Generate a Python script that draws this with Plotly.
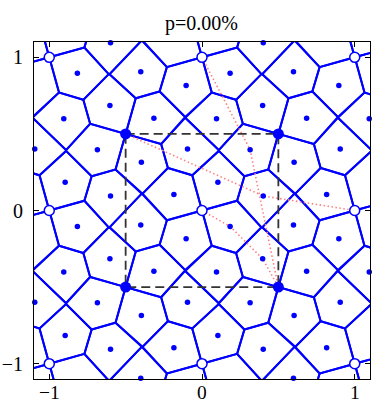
import plotly.graph_objects as go
import numpy as np

# ---- data: sites of one unit cell (p4 symmetry about the origin, period 1) ----
orbit_x = [0.401, 0.315, 0.104]   # representative sites A, B, C
orbit_y = [0.095, 0.397, 0.184]

# special points
hollow_x = [-1, 0, 1, -1, 0, 1, -1, 0, 1]
hollow_y = [1, 1, 1, 0, 0, 0, -1, -1, -1]
big_x = [-0.5, 0.5, 0.5, -0.5]
big_y = [0.5, 0.5, -0.5, -0.5]

# dashed unit cell
cell_x = [-0.5, 0.5, 0.5, -0.5, -0.5]
cell_y = [0.5, 0.5, -0.5, -0.5, 0.5]

# red dotted paths
red_paths = [
    ([-0.5, 0.401, 1.0], [0.5, 0.095, 0.0]),
    ([0.0, 0.315, 0.5], [1.0, 0.397, -0.5]),
    ([0.0, 0.184, 0.397, 0.5], [0.0, -0.104, -0.315, -0.5]),
]

title_text = "p=0.00%"
tick_vals = [-1, 0, 1]
tick_text = ["\u22121", "0", "1"]
rng = [-1.1, 1.1]

# ---- build all sites ----
sites = []
for bx, by in zip(orbit_x, orbit_y):
    x, y = bx, by
    for _ in range(4):
        for i in range(-3, 4):
            for j in range(-3, 4):
                sites.append((x + i, y + j))
        x, y = -y, x
sites = np.array(sites)
sites = sites[(np.abs(sites[:, 0]) < 2.6) & (np.abs(sites[:, 1]) < 2.6)]


def clip(poly, a, b, c):
    out = []
    n = len(poly)
    for k in range(n):
        p = poly[k]
        q = poly[(k + 1) % n]
        fp = a * p[0] + b * p[1] - c
        fq = a * q[0] + b * q[1] - c
        if fp <= 0:
            out.append(p)
        if fp * fq < 0:
            t = fp / (fp - fq)
            out.append((p[0] + t * (q[0] - p[0]), p[1] + t * (q[1] - p[1])))
    return out


vx, vy = [], []
for s in sites:
    if abs(s[0]) > 1.8 or abs(s[1]) > 1.8:
        continue
    poly = [(s[0] - 2, s[1] - 2), (s[0] + 2, s[1] - 2), (s[0] + 2, s[1] + 2), (s[0] - 2, s[1] + 2)]
    d = np.hypot(sites[:, 0] - s[0], sites[:, 1] - s[1])
    for t in sites[(d > 1e-9) & (d < 0.9)]:
        a = 2 * (t[0] - s[0])
        b = 2 * (t[1] - s[1])
        c = t[0] ** 2 + t[1] ** 2 - s[0] ** 2 - s[1] ** 2
        poly = clip(poly, a, b, c)
    for p in poly + [poly[0]]:
        vx.append(p[0])
        vy.append(p[1])
    vx.append(None)
    vy.append(None)

vis = sites[(np.abs(sites[:, 0]) <= 1.1) & (np.abs(sites[:, 1]) <= 1.1)]

fig = go.Figure()
fig.add_trace(go.Scatter(x=vx, y=vy, mode="lines", line=dict(color="#0000ff", width=2),
                         hoverinfo="skip"))
for px, py in red_paths:
    fig.add_trace(go.Scatter(x=px, y=py, mode="lines",
                             line=dict(color="#ff8080", width=1.6, dash="1.5px,2.5px")))
fig.add_trace(go.Scatter(x=cell_x, y=cell_y, mode="lines",
                         line=dict(color="#333333", width=1.8, dash="9px,5px")))
fig.add_trace(go.Scatter(x=vis[:, 0], y=vis[:, 1], mode="markers", cliponaxis=False,
                         marker=dict(color="#0000ff", size=5.5, line=dict(width=0))))
fig.add_trace(go.Scatter(x=hollow_x, y=hollow_y, mode="markers", cliponaxis=False,
                         marker=dict(color="white", size=10, line=dict(color="#0000ff", width=1.5))))
fig.add_trace(go.Scatter(x=big_x, y=big_y, mode="markers", cliponaxis=False,
                         marker=dict(color="#0000ff", size=11, line=dict(width=0))))

tfont = dict(family="Liberation Serif", size=20, color="black")
axis_common = dict(range=rng, tickvals=tick_vals, ticks="inside", ticklen=5, tickcolor="black",
                   showline=True, linecolor="black", linewidth=1, mirror="ticks",
                   showgrid=False, zeroline=False, automargin=False, tickfont=tfont)
fig.update_xaxes(**axis_common, showticklabels=False)
fig.update_yaxes(**axis_common, ticklabelstandoff=6)
for tv, tt in zip(tick_vals, tick_text):
    fig.add_annotation(x=tv, y=0, xref="x", yref="paper", text=tt, showarrow=False,
                       xanchor="center", yanchor="top", yshift=-2, height=20, valign="middle",
                       font=dict(family="Liberation Serif", size=19.5, color="black"), borderpad=0)
fig.update_layout(
    width=373, height=401,
    margin=dict(l=34, r=3, t=42, b=22, autoexpand=False),
    paper_bgcolor="white", plot_bgcolor="white",
    showlegend=False,
    title=dict(text=title_text, x=0.54, xanchor="center", y=0.942, yanchor="middle",
               font=dict(family="Liberation Serif", size=20, color="black")),
)
fig.write_html("out.html")
